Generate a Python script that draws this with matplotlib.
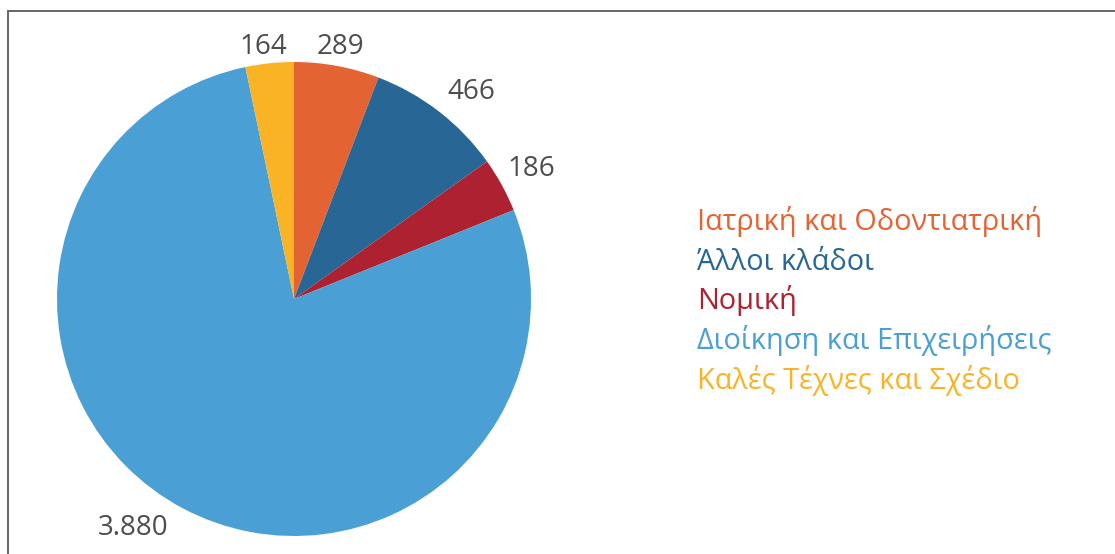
import numpy as np
import matplotlib
matplotlib.use('Agg')
import matplotlib.pyplot as plt
from matplotlib.patches import Rectangle

# data
categories = ['Ιατρική και Οδοντιατρική', 'Άλλοι κλάδοι', 'Νομική',
              'Διοίκηση και Επιχειρήσεις', 'Καλές Τέχνες και Σχέδιο']
values = [289, 466, 186, 3880, 164]
value_labels = ['289', '466', '186', '3.880', '164']
colors = ['#E46333', '#286795', '#AE2131', '#4A9FD4', '#FBB326']

W, H = 1115, 554
fig = plt.figure(figsize=(W / 100, H / 100), dpi=100)
fig.patch.set_facecolor('white')
plt.rcParams['font.family'] = ['Open Sans', 'DejaVu Sans']

# outer frame
fig.patches.append(Rectangle((8 / W, -0.1), 1.2, (554 - 11) / H + 0.1,
                             transform=fig.transFigure, facecolor='none',
                             edgecolor='#5a5a5a', linewidth=1.3))

cx, cy, r = 294, 299, 237
ax = fig.add_axes([(cx - r) / W, (H - cy - r) / H, 2 * r / W, 2 * r / H])
wedges, _ = ax.pie(values, colors=colors, startangle=90, counterclock=False,
                   radius=1, wedgeprops=dict(linewidth=0))
ax.set_xlim(-1, 1)
ax.set_ylim(-1, 1)
ax.set_aspect('equal')
ax.axis('off')

# value labels around the pie
label_r = [1.08, 1.15, 1.14, 1.18, 1.07]
label_shift = [0, -3, 0, -7, 1]
for w, txt, lr, sh in zip(wedges, value_labels, label_r, label_shift):
    mid = np.deg2rad((w.theta1 + w.theta2) / 2 + sh)
    ax.text(lr * np.cos(mid), lr * np.sin(mid), txt, ha='center', va='center',
            fontsize=20, color='#4d4d4f', clip_on=False)

# legend as coloured text
leg_y = [222, 263, 301, 341, 381]
for name, c, y in zip(categories, colors, leg_y):
    fig.text(697 / W, 1 - y / H, name, ha='left', va='center',
             fontsize=20.8, color=c)

plt.savefig('out.png', dpi=100, facecolor='white')
plt.close()
